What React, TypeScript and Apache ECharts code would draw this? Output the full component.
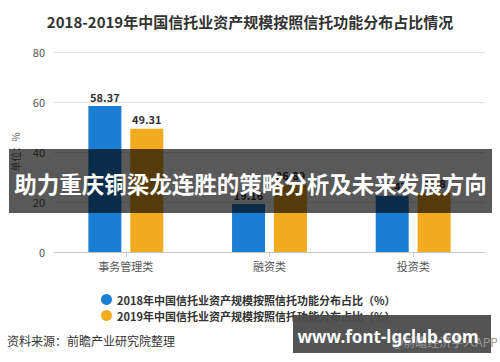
import React, { useEffect, useRef } from "react";
import * as echarts from "echarts";

const categories = ["事务管理类", "融资类", "投资类"];
const series2018 = [58.37, 19.16, 22.47];
const series2019 = [49.31, 26.89, 23.8];
const seriesNames = [
  "2018年中国信托业资产规模按照信托功能分布占比（%）",
  "2019年中国信托业资产规模按照信托功能分布占比（%）",
];
const yTicks = { min: 0, max: 80, interval: 20 };
const titleText = "2018-2019年中国信托业资产规模按照信托功能分布占比情况";
const sourceText = "资料来源：前瞻产业研究院整理";
const bannerText = "助力重庆铜梁龙连胜的策略分析及未来发展方向";
const watermarkText = "www.font-lgclub.com";
const brandText = "@前瞻经济学人APP";

const FONT = '"Noto Sans CJK SC", "Noto Sans", sans-serif';

export default function App() {
  const ref = useRef<HTMLDivElement>(null);
  useEffect(() => {
    if (!ref.current) return;
    const chart = echarts.init(ref.current, undefined, { renderer: "svg" });
    const labelStyle = {
      show: true,
      position: "top",
      distance: 4,
      fontSize: 11,
      fontWeight: "bold",
      color: "#333",
      fontFamily: FONT,
    };
    chart.setOption({
      animation: false,
      backgroundColor: "#ffffff",
      textStyle: { fontFamily: FONT },
      title: {
        text: titleText,
        left: "center",
        top: 9,
        textStyle: { fontSize: 15, fontWeight: "bold", color: "#333", fontFamily: FONT },
      },
      grid: { left: 54, right: 15, top: 52, bottom: 110, containLabel: false },
      legend: {
        orient: "vertical",
        left: 96,
        top: 289,
        itemWidth: 11,
        itemHeight: 11,
        itemGap: 5,
        icon: "circle",
        textStyle: { fontSize: 11, fontWeight: "bold", color: "#333", fontFamily: FONT },
        data: seriesNames,
      },
      xAxis: {
        type: "category",
        data: categories,
        axisLine: { lineStyle: { color: "#c8c8c8" } },
        axisTick: { show: true, alignWithLabel: true, length: 5, lineStyle: { color: "#c8c8c8" } },
        axisLabel: { fontSize: 11, color: "#555", margin: 8, fontFamily: FONT },
      },
      yAxis: {
        type: "value",
        min: yTicks.min,
        max: yTicks.max,
        interval: yTicks.interval,
        name: "单位：%",
        nameLocation: "middle",
        nameRotate: 90,
        nameGap: 34,
        nameTextStyle: { fontSize: 10, color: "#666", fontFamily: FONT },
        axisLine: { show: false },
        axisTick: { show: false },
        axisLabel: { fontSize: 11, color: "#555", margin: 9, fontFamily: FONT },
        splitLine: { lineStyle: { color: "#e2e2e2" } },
      },
      series: [
        {
          name: seriesNames[0],
          type: "bar",
          data: series2018,
          barWidth: 33,
          barGap: "27%",
          itemStyle: { color: "#1a7fd4" },
          label: labelStyle,
        },
        {
          name: seriesNames[1],
          type: "bar",
          data: series2019,
          barWidth: 33,
          itemStyle: { color: "#f2aa1f" },
          label: labelStyle,
        },
      ],
      graphic: [
        {
          type: "text",
          left: 7,
          top: 334,
          style: { text: sourceText, fontSize: 12, fill: "#333", fontFamily: FONT },
        },
        {
          type: "rect",
          z: 100,
          shape: { x: 9, y: 149, width: 483, height: 64 },
          style: { fill: "rgba(0,0,0,0.65)" },
        },
        {
          type: "text",
          z: 101,
          x: 250.5,
          y: 183,
          style: {
            text: bannerText,
            fontSize: 22.5,
            fontWeight: "bold",
            fill: "#ffffff",
            fontFamily: FONT,
            align: "center",
            verticalAlign: "middle",
          },
        },
        {
          type: "rect",
          z: 100,
          shape: { x: 293, y: 315, width: 198, height: 38 },
          style: { fill: "rgba(75,75,75,0.95)" },
        },
        {
          type: "text",
          z: 101,
          x: 392,
          y: 341,
          style: {
            text: brandText,
            fontSize: 12,
            fill: "#9a9a9a",
            fontFamily: FONT,
            align: "left",
            verticalAlign: "middle",
          },
        },
        {
          type: "text",
          z: 102,
          x: 388,
          y: 336,
          style: {
            text: watermarkText,
            fontSize: 17,
            fontWeight: "bold",
            fill: "#ffffff",
            fontFamily: '"Noto Sans", sans-serif',
            align: "center",
            verticalAlign: "middle",
          },
        },
      ],
    });
    return () => chart.dispose();
  }, []);
  return <div ref={ref} style={{ width: 500, height: 362, position: "absolute", left: 0, top: 0 }} />;
}
